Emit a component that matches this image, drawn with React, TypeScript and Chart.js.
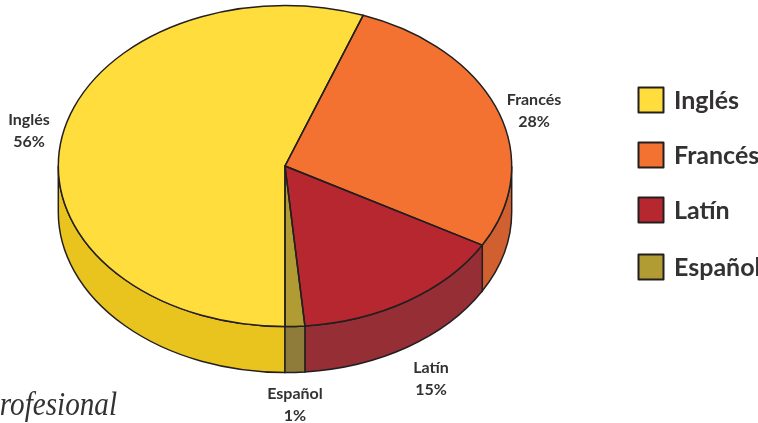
import React, { useEffect, useRef } from "react";
import { Chart, registerables } from "chart.js";

Chart.register(...registerables);

const categories = ["Inglés", "Francés", "Latín", "Español"];
const sliceShares = [55.6, 27.6, 15.4, 1.4];
const percentLabels = ["56%", "28%", "15%", "1%"];
const topColors = ["#FFDD3C", "#F37232", "#B7272F", "#B19B33"];
const sideColors = ["#E9C41E", "#D0602F", "#962E35", "#8F7C3A"];
const labelCenters = [
  [29, 120],
  [534, 100],
  [431, 368],
  [295, 394],
];
const legendRows = [100, 155, 210, 267];

const INK = "#231F20";
const TEXT = "#333132";
const SQUASH = 226.7 / 160.5;
const DEPTH = 46;
const FONT = "Lato, sans-serif";

const pie3d = {
  id: "pie3d",
  beforeDatasetsDraw(chart: any) {
    const { ctx } = chart;
    const arcs = chart.getDatasetMeta(0).data;
    const { x: cx, y: cy, outerRadius: ry } = arcs[0];
    const rx = ry * SQUASH;
    arcs.forEach((arc: any, i: number) => {
      for (const shift of [-2 * Math.PI, 0, 2 * Math.PI]) {
        const a = Math.max(arc.startAngle + shift, 0);
        const b = Math.min(arc.endAngle + shift, Math.PI);
        if (b <= a) continue;
        ctx.beginPath();
        ctx.ellipse(cx, cy, rx, ry, 0, a, b);
        ctx.ellipse(cx, cy + DEPTH, rx, ry, 0, b, a, true);
        ctx.closePath();
        ctx.fillStyle = sideColors[i];
        ctx.fill();
        ctx.lineWidth = 1.5;
        ctx.strokeStyle = INK;
        ctx.stroke();
      }
    });
    ctx.save();
    ctx.translate(cx, cy);
    ctx.scale(SQUASH, 1);
    ctx.translate(-cx, -cy);
  },
  afterDatasetsDraw(chart: any) {
    const { ctx } = chart;
    ctx.restore();
    const arcs = chart.getDatasetMeta(0).data;
    const { x: cx, y: cy, outerRadius: ry } = arcs[0];
    const rx = ry * SQUASH;
    ctx.lineWidth = 1.5;
    ctx.strokeStyle = INK;
    ctx.lineJoin = "round";
    arcs.forEach((arc: any) => {
      ctx.beginPath();
      ctx.moveTo(cx, cy);
      ctx.ellipse(cx, cy, rx, ry, 0, arc.startAngle, arc.endAngle);
      ctx.closePath();
      ctx.stroke();
    });

    ctx.fillStyle = TEXT;
    ctx.textAlign = "center";
    ctx.textBaseline = "middle";
    ctx.font = `700 16px ${FONT}`;
    categories.forEach((name, i) => {
      const [x, y] = labelCenters[i];
      ctx.fillText(name, x, y);
      ctx.fillText(percentLabels[i], x, y + 21.5);
    });

    categories.forEach((name, i) => {
      const y = legendRows[i];
      ctx.fillStyle = topColors[i];
      ctx.fillRect(638.5, y - 12.5, 25, 25);
      ctx.lineWidth = 2;
      ctx.strokeStyle = INK;
      ctx.strokeRect(638.5, y - 12.5, 25, 25);
      ctx.fillStyle = TEXT;
      ctx.textAlign = "left";
      ctx.font = `700 25px ${FONT}`;
      ctx.fillText(name, 674, y + 1);
    });

    ctx.textAlign = "right";
    ctx.textBaseline = "alphabetic";
    ctx.font = 'italic 34px "Liberation Serif", serif';
    ctx.fillText("Profesional", 117, 415, 135);
  },
};

export default function App() {
  const ref = useRef<HTMLCanvasElement>(null);
  useEffect(() => {
    document.body.style.margin = "0";
    const chart = new Chart(ref.current!, {
      type: "pie",
      data: {
        labels: categories,
        datasets: [
          {
            data: sliceShares,
            backgroundColor: topColors,
            borderWidth: 0,
            clip: false,
          } as any,
        ],
      },
      options: {
        responsive: false,
        animation: false,
        rotation: 180,
        layout: { padding: { top: 5.5, bottom: 96.5, left: 124.5, right: 312.5 } },
        plugins: { legend: { display: false }, tooltip: { enabled: false } },
      },
      plugins: [pie3d],
    });
    return () => chart.destroy();
  }, []);
  return <canvas ref={ref} width={758} height={423} style={{ display: "block" }} />;
}
